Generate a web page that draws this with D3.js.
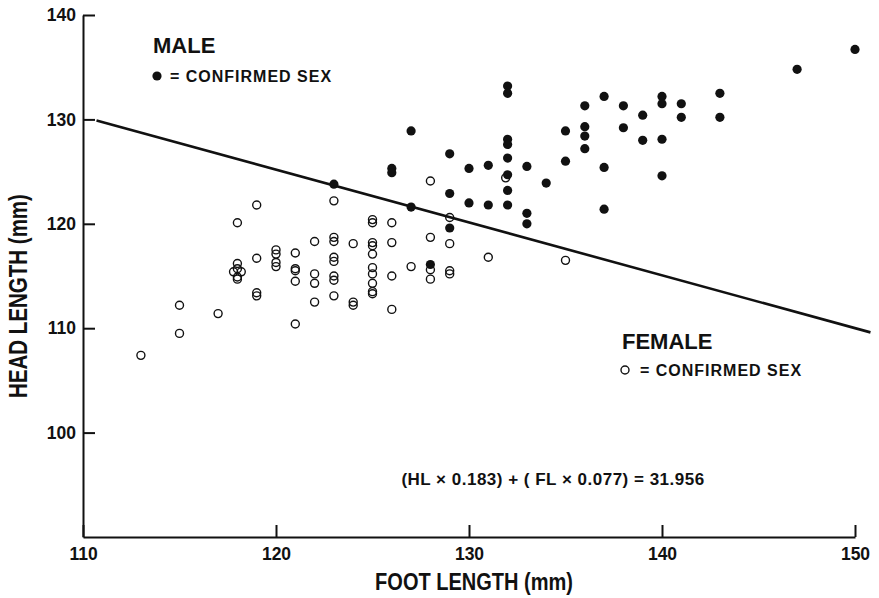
<!DOCTYPE html>
<html>
<head>
<meta charset="utf-8">
<script src="https://cdn.jsdelivr.net/npm/d3@7"></script>
<style>
  body { margin: 0; background: #fff; }
  svg text { font-family: "Liberation Sans", Arial, sans-serif; font-weight: bold; fill: #111; }
</style>
</head>
<body>
<script>
// foot length / head length (mm), filled = male, confirmed sex
const maleFL = [123, 126, 126, 127, 127, 128, 129, 129, 129, 130, 130, 131, 131,
  132, 132, 132, 132, 132, 132, 132, 132, 133, 133, 133, 134, 135, 135,
  136, 136, 136, 136, 137, 137, 137, 138, 138, 139, 139, 140, 140, 140, 140,
  141, 141, 143, 143, 147, 150];
const maleHL = [123.8, 125.3, 124.9, 128.9, 121.6, 116.1, 126.7, 122.9, 119.6, 125.3, 122.0, 125.6, 121.8,
  133.2, 132.5, 128.1, 127.6, 126.3, 124.7, 123.2, 121.8, 125.5, 121.0, 120.0, 123.9, 128.9, 126.0,
  131.3, 129.3, 128.4, 127.2, 132.2, 125.4, 121.4, 131.3, 129.2, 130.4, 128.0, 132.2, 131.5, 128.1, 124.6,
  131.5, 130.2, 132.5, 130.2, 134.8, 136.7];

// open = female, confirmed sex
const femaleFL = [113, 115, 115, 117, 118, 118, 118, 117.8, 118.2, 118, 118,
  119, 119, 119, 119, 120, 120, 120, 120, 121, 121, 121, 121, 121,
  122, 122, 122, 122, 123, 123, 123, 123, 123, 123, 123, 123,
  124, 124, 124, 125, 125, 125, 125, 125, 125, 125, 125, 125, 125,
  126, 126, 126, 126, 127, 128, 128, 128, 128, 129, 129, 129, 129,
  131, 131.9, 135];
const femaleHL = [107.4, 112.2, 109.5, 111.4, 120.1, 116.2, 115.7, 115.4, 115.4, 114.9, 114.7,
  121.8, 116.7, 113.4, 113.1, 117.5, 117.1, 116.3, 115.9, 117.2, 115.7, 115.5, 114.5, 110.4,
  118.3, 115.2, 114.3, 112.5, 122.2, 118.7, 118.3, 116.8, 116.4, 115.0, 114.6, 113.1,
  118.1, 112.5, 112.2, 120.4, 120.1, 118.2, 117.9, 117.1, 115.8, 115.2, 114.3, 113.5, 113.3,
  120.1, 118.2, 115.0, 111.8, 115.9, 124.1, 118.7, 115.6, 114.7, 120.6, 118.1, 115.5, 115.2,
  116.8, 124.4, 116.5];

// discriminant line as drawn
const lineFL = [110.7, 150.8];
const lineHL = [129.9, 109.6];

const xTicks = [110, 120, 130, 140, 150];
const yTicks = [100, 110, 120, 130, 140];

const w = 879, h = 598;

const svg = d3.select("body").append("svg")
  .attr("width", w)
  .attr("height", h);

const x = d3.scaleLinear().domain([110, 150]).range([83, 855]);
const y = d3.scaleLinear().domain([90, 140]).range([537, 15]);

// axes, ticks pointing inward
const xAxis = svg.append("g")
  .attr("transform", `translate(0,${y(90)})`)
  .call(d3.axisBottom(x).tickValues(xTicks).tickFormat(d3.format("d"))
    .tickSizeInner(-12).tickSizeOuter(0).tickPadding(11));

const yAxis = svg.append("g")
  .attr("transform", `translate(${x(110)},0)`)
  .call(d3.axisLeft(y).tickValues(yTicks).tickFormat(d3.format("d"))
    .tickSizeInner(-12).tickSizeOuter(0).tickPadding(7));

[xAxis, yAxis].forEach(g => {
  g.selectAll("path, line").attr("stroke", "#111").attr("stroke-width", 2);
  g.selectAll("text").style("font-size", "17.5px").attr("fill", "#111");
});

// condensed-looking text helper
function label(tx, ty, str, size, sx, anchor) {
  return svg.append("text")
    .attr("transform", `translate(${tx},${ty}) scale(${sx},1)`)
    .attr("text-anchor", anchor || "start")
    .style("font-size", size + "px")
    .text(str);
}

// regression line
svg.append("line")
  .attr("x1", x(lineFL[0])).attr("y1", y(lineHL[0]))
  .attr("x2", x(lineFL[1])).attr("y2", y(lineHL[1]))
  .attr("stroke", "#111")
  .attr("stroke-width", 2.6);

// females
svg.append("g").selectAll("circle")
  .data(femaleFL.map((d, i) => [d, femaleHL[i]]))
  .enter()
  .append("circle")
  .attr("cx", d => x(d[0]))
  .attr("cy", d => y(d[1]))
  .attr("r", 4)
  .attr("fill", "none")
  .attr("stroke", "#111")
  .attr("stroke-width", 1.4);

// males
svg.append("g").selectAll("circle")
  .data(maleFL.map((d, i) => [d, maleHL[i]]))
  .enter()
  .append("circle")
  .attr("cx", d => x(d[0]))
  .attr("cy", d => y(d[1]))
  .attr("r", 4.6)
  .attr("fill", "#111");

// legend labels
label(153, 53, "MALE", 22, 1);
svg.append("circle").attr("cx", 157).attr("cy", 76).attr("r", 4.6).attr("fill", "#111");
label(170, 82, "=  CONFIRMED SEX", 16, 1).style("letter-spacing", "1px");

label(622, 349, "FEMALE", 22, 1);
svg.append("circle").attr("cx", 625).attr("cy", 370).attr("r", 4)
  .attr("fill", "none").attr("stroke", "#111").attr("stroke-width", 1.4);
label(640, 376, "=  CONFIRMED SEX", 16, 1).style("letter-spacing", "1px");

label(553, 485, "(HL \u00d7 0.183) + ( FL \u00d7 0.077) = 31.956", 17, 1, "middle")
  .style("letter-spacing", "0.5px");

// axis titles
label(474, 590, "FOOT LENGTH (mm)", 23, 0.87, "middle");
svg.append("text")
  .attr("transform", "translate(27,296) rotate(-90) scale(0.82,1)")
  .attr("text-anchor", "middle")
  .style("font-size", "25px")
  .text("HEAD LENGTH (mm)");
</script>
</body>
</html>
